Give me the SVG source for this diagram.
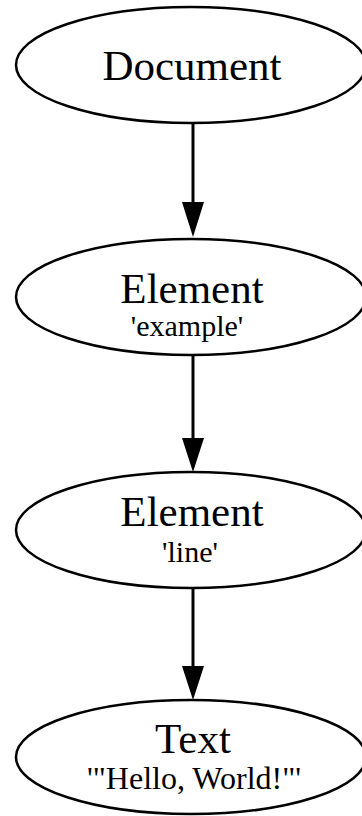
<svg xmlns="http://www.w3.org/2000/svg" width="362" height="816" viewBox="0 0 362 816">
  <style>
    .node ellipse { fill: #fff; stroke: #000; stroke-width: 2.5; }
    .title { font-family: "Liberation Serif", "Times New Roman", serif; font-size: 43px; text-anchor: middle; fill: #000; }
    .sub { font-family: "Liberation Serif", "Times New Roman", serif; font-size: 30px; text-anchor: middle; fill: #000; }
    .edges line { stroke: #000; stroke-width: 3; }
    .edges polygon { fill: #000; }
  </style>
  <rect width="362" height="816" fill="#fff"/>

  <g id="node-document" class="node">
    <ellipse cx="191" cy="65" rx="175" ry="58"/>
    <text class="title" x="192" y="80">Document</text>
  </g>

  <g id="node-element-example" class="node">
    <ellipse cx="191" cy="297" rx="175" ry="58"/>
    <text class="title" x="192" y="303">Element</text>
    <text class="sub" x="187" y="336">'example'</text>
  </g>

  <g id="node-element-line" class="node">
    <ellipse cx="191" cy="530" rx="175" ry="58"/>
    <text class="title" x="192" y="526">Element</text>
    <text class="sub" x="190" y="562">'line'</text>
  </g>

  <g id="node-text" class="node">
    <ellipse cx="191" cy="757" rx="175" ry="57"/>
    <text class="title" x="193" y="753">Text</text>
    <text class="sub" x="194" y="789" style="font-size:32px">'"Hello, World!"'</text>
  </g>

  <g id="edges" class="edges">
    <line x1="193" y1="124" x2="193" y2="204"/>
    <polygon points="182,202 204,202 193,237"/>
    <line x1="193" y1="355" x2="193" y2="440"/>
    <polygon points="182,438 204,438 193,472"/>
    <line x1="193" y1="588" x2="193" y2="668"/>
    <polygon points="182,666 204,666 193,700"/>
  </g>
</svg>
